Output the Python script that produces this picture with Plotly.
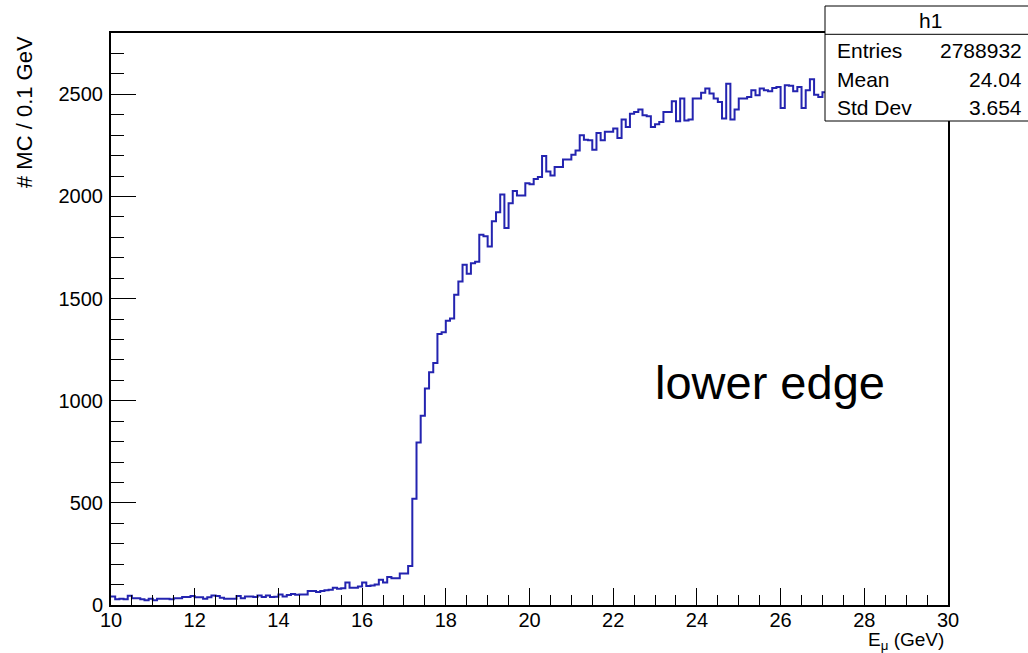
import numpy as np
import plotly.graph_objects as go

# ---- data ----
bin_low = 10.0
bin_high = 30.0
n_bins = 200

counts_10_to_17 = [41, 28, 30, 28, 45, 33, 33, 28, 23, 31,
                   23, 31, 31, 31, 28, 33, 33, 39, 39, 44,
                   38, 38, 31, 38, 46, 44, 36, 31, 31, 31,
                   44, 33, 42, 42, 39, 47, 39, 47, 39, 40,
                   51, 42, 49, 54, 50, 51, 51, 69, 69, 64,
                   69, 72, 75, 85, 80, 82, 110, 85, 85, 90,
                   110, 93, 96, 100, 123, 110, 137, 131, 131, 154]
counts_17_to_20 = [154, 191, 520, 795, 927, 1060, 1139, 1185, 1327, 1335,
                   1392, 1402, 1519, 1584, 1666, 1621, 1673, 1680, 1812, 1805,
                   1755, 1879, 1923, 2010, 1845, 1967, 2026, 2005, 2005, 2065]
counts_20_to_27 = [2060, 2085, 2095, 2198, 2122, 2103, 2144, 2144, 2181, 2181,
                   2204, 2225, 2299, 2278, 2275, 2229, 2310, 2275, 2316, 2316,
                   2332, 2286, 2376, 2340, 2405, 2413, 2425, 2397, 2392, 2340,
                   2353, 2364, 2413, 2413, 2466, 2368, 2479, 2372, 2376, 2479,
                   2479, 2508, 2528, 2504, 2479, 2462, 2381, 2552, 2376, 2425,
                   2479, 2479, 2487, 2520, 2495, 2528, 2520, 2515, 2531, 2536,
                   2433, 2544, 2542, 2515, 2536, 2433, 2520, 2574, 2498, 2487]
counts_27_to_30 = [2510, 2530, 2495, 2540, 2520, 2505, 2550, 2515, 2490, 2535,
                   2525, 2545, 2500, 2530, 2515, 2555, 2520, 2505, 2540, 2510,
                   2530, 2495, 2525, 2545, 2515, 2535, 2500, 2520, 2540, 2510]

stats_labels = ["Entries", "Mean", "Std Dev"]
stats_values = ["2788932", "24.04", "3.654"]
hist_name = "h1"

counts = counts_10_to_17 + counts_17_to_20 + counts_20_to_27 + counts_27_to_30
edges = np.linspace(bin_low, bin_high, n_bins + 1)
x_step = list(edges)
y_step = counts + [counts[-1]]

# ---- layout geometry (pixels) ----
W, H = 1028, 653
L, R, T, B = 111, 80, 33, 48
PW, PH = W - L - R, H - T - B

def px(xp):
    return (xp - L) / PW

def py(yp):
    return (H - B - yp) / PH

FONT = "Liberation Sans, Arial, Helvetica, sans-serif"

fig = go.Figure()
fig.add_trace(go.Scatter(
    x=x_step, y=y_step, mode="lines",
    line=dict(shape="hv", color="#2424b0", width=2),
    hoverinfo="skip", showlegend=False,
))

axis_common = dict(
    showline=True, mirror=True, linecolor="black", linewidth=2,
    ticks="inside", tickcolor="black", tickwidth=1,
    showgrid=False, zeroline=False,
    tickfont=dict(family=FONT, size=20, color="black"),
)

fig.update_layout(
    width=W, height=H,
    margin=dict(l=L, r=R, t=T, b=B, pad=0),
    paper_bgcolor="white", plot_bgcolor="white",
    xaxis=dict(range=[bin_low, bin_high], tick0=10, dtick=2, ticklen=17,
               ticklabelstandoff=-4,
               minor=dict(dtick=0.5, ticklen=10, ticks="inside",
                          tickcolor="black", showgrid=False),
               **axis_common),
    yaxis=dict(range=[0, 2800], tick0=0, dtick=500, ticklen=25,
               ticklabelstandoff=2,
               minor=dict(dtick=100, ticklen=13, ticks="inside",
                          tickcolor="black", showgrid=False),
               **axis_common),
    showlegend=False,
)

# stats box
fig.add_shape(type="rect", xref="paper", yref="paper",
              x0=px(825), x1=px(1040), y0=py(121), y1=py(6),
              fillcolor="white", line=dict(color="black", width=1), layer="above")
fig.add_shape(type="line", xref="paper", yref="paper",
              x0=px(825), x1=px(1040), y0=py(34.3), y1=py(34.3),
              line=dict(color="black", width=1), layer="above")

annos = []
annos.append(dict(text=hist_name, x=px(930), y=py(21), xanchor="center", yanchor="middle"))
for lab, val, yc in zip(stats_labels, stats_values, [51, 79.5, 107.5]):
    annos.append(dict(text=lab, x=px(835), y=py(yc), xanchor="left", yanchor="middle"))
    annos.append(dict(text=val, x=px(1024), y=py(yc), xanchor="right", yanchor="middle"))
for a in annos:
    fig.add_annotation(xref="paper", yref="paper", showarrow=False,
                       font=dict(family=FONT, size=21, color="black"), **a)

# axis titles
fig.add_annotation(xref="paper", yref="paper", x=0, y=1, xshift=-87, yshift=-1,
                   xanchor="center", yanchor="top", textangle=-90, showarrow=False,
                   text="# MC / 0.1 GeV", font=dict(family=FONT, size=22, color="black"))
fig.add_annotation(xref="paper", yref="paper", x=1, y=0, xshift=-2, yshift=-22,
                   xanchor="right", yanchor="top", showarrow=False,
                   text="E<sub>μ</sub> (GeV)", font=dict(family=FONT, size=19, color="black"))

# in-plot label
fig.add_annotation(xref="paper", yref="paper", x=px(770), y=py(382),
                   xanchor="center", yanchor="middle", showarrow=False,
                   text="lower edge", font=dict(family=FONT, size=47, color="black"))

fig.write_html("out.html")
